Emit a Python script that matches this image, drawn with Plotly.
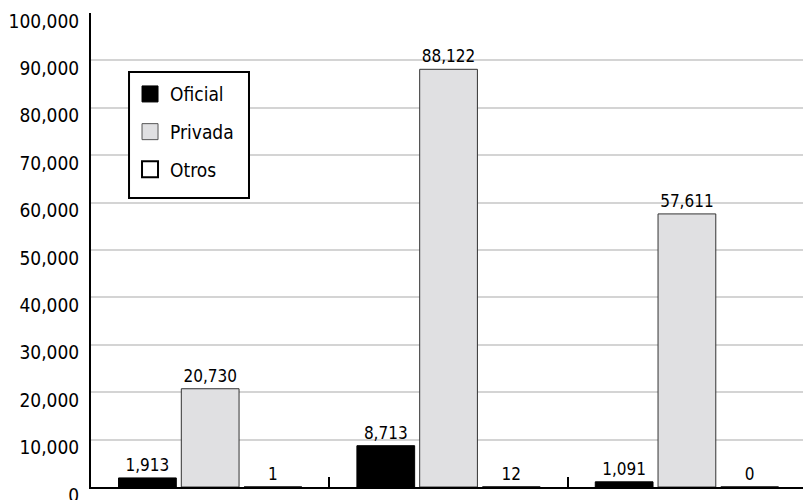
import plotly.graph_objects as go

categories = ["A", "B", "C"]
oficial = [1913, 8713, 1091]
privada = [20730, 88122, 57611]
otros = [1, 12, 0]
series_names = ["Oficial", "Privada", "Otros"]
y_ticks = list(range(0, 100001, 10000))

FONT = "DejaVu Sans Condensed, Liberation Sans Narrow, Roboto, sans-serif"

fills = ["#000000", "#e0e0e2", "#ffffff"]
lines = ["#000000", "#333333", "#000000"]

fig = go.Figure()
for name, vals, fc, lc in zip(series_names, [oficial, privada, otros], fills, lines):
    fig.add_trace(go.Bar(
        x=categories, y=vals, name=name, showlegend=False,
        marker=dict(color=fc, line=dict(color=lc, width=1)),
        texttemplate="%{y:,}", textposition="outside", cliponaxis=False,
        textfont=dict(family=FONT, size=17, color="#000"),
    ))

# legend-only entries
for i, (name, fc, lc) in enumerate(zip(series_names, fills, lines)):
    fig.add_trace(go.Scatter(
        x=[None], y=[None], mode="markers", name=name, legendgroup=name,
        marker=dict(symbol="square", size=16, color=fc,
                    line=dict(color="#000" if i != 1 else "#555", width=2 if i == 2 else 1)),
    ))

# legend frame
fig.add_shape(type="rect", xref="paper", yref="paper",
              x0=0.0534, x1=0.2219, y0=0.6097, y1=0.8755,
              line=dict(color="#000", width=2), fillcolor="white", layer="above")

fig.update_layout(
    width=803, height=500,
    margin=dict(l=91, r=0, t=13, b=13, autoexpand=False),
    paper_bgcolor="white", plot_bgcolor="white",
    barmode="group", bargap=0.21, bargroupgap=0.08,
    font=dict(family=FONT, color="#000"),
    legend=dict(
        x=0.0548, y=0.869, xanchor="left", yanchor="top",
        borderwidth=0, bgcolor="rgba(0,0,0,0)",
        font=dict(family=FONT, size=19, color="#000"),
        traceorder="grouped", tracegroupgap=10,
    ),
    xaxis=dict(
        type="category", range=[-0.5, 2.487], automargin=False,
        showticklabels=False, showgrid=False,
        showline=True, linecolor="#000", linewidth=2,
        ticks="inside", tickson="boundaries", ticklen=10, tickwidth=2, tickcolor="#000",
        zeroline=False,
    ),
    yaxis=dict(
        range=[0, 100000], tickvals=y_ticks, tickformat=",", automargin=False,
        showline=True, linecolor="#000", linewidth=2,
        showgrid=True, gridcolor="#d4d4d4", gridwidth=1.5,
        zeroline=False, ticks="",
        ticklabelstandoff=6, ticklabelshift=8,
        ticklabeloverflow="allow",
        tickfont=dict(family=FONT, size=19, color="#000"),
    ),
)

fig.write_html("out.html")
